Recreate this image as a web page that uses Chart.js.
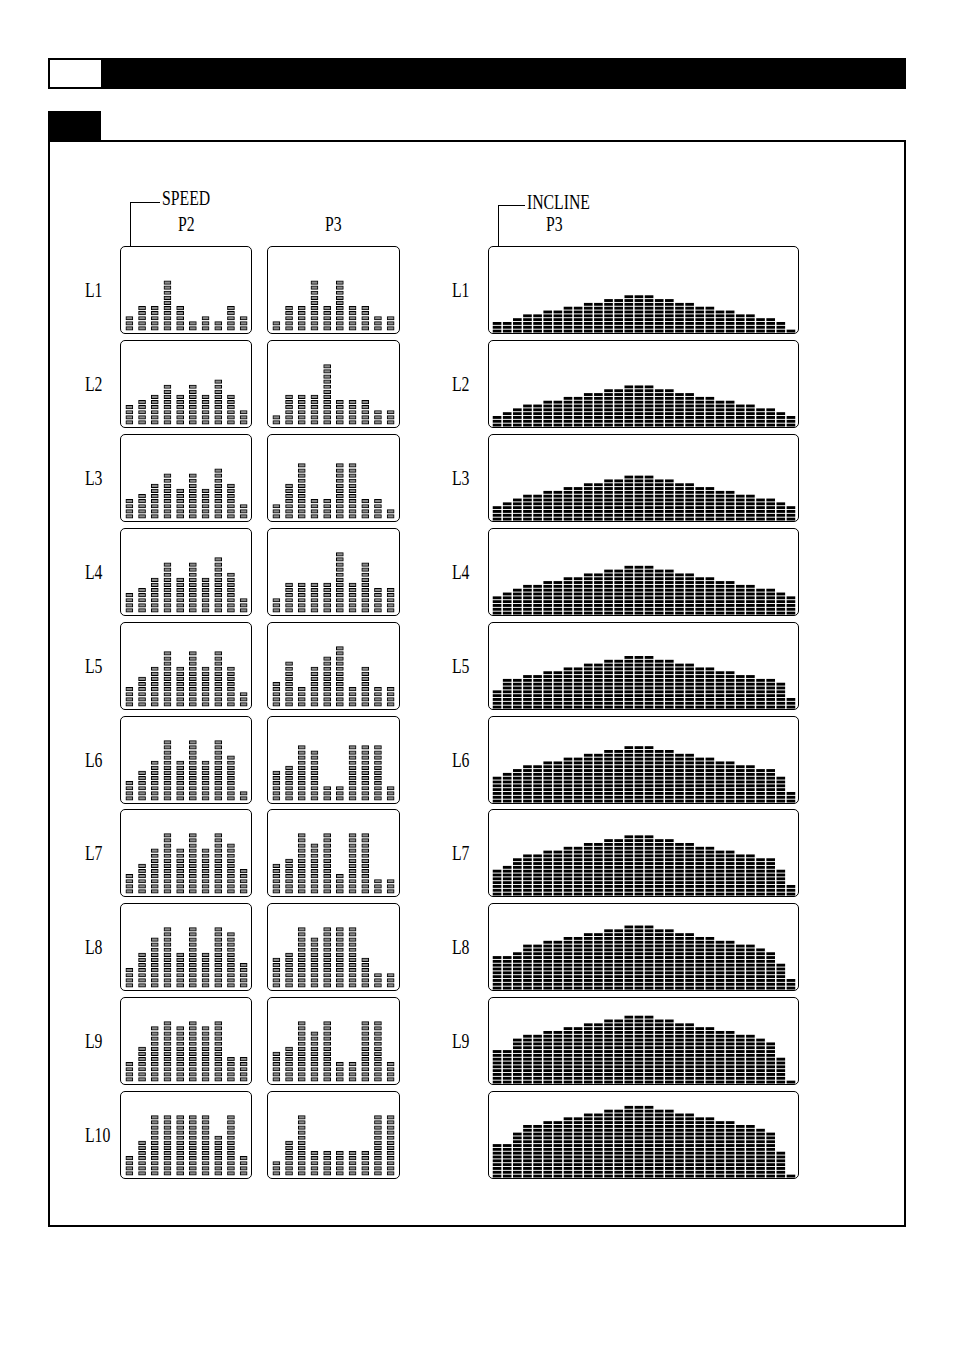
<!DOCTYPE html>
<html>
<head>
<meta charset="utf-8">
<script src="https://cdn.jsdelivr.net/npm/chart.js@4.4.1/dist/chart.umd.min.js"></script>
<style>
  body { margin:0; background:#fff; width:954px; height:1349px; position:relative; font-family:"Liberation Serif", serif; overflow:hidden; }
  .blk { position:absolute; background:#000; }
  .box { position:absolute; border:1px solid #000; border-radius:5px; box-sizing:border-box; background:#fff; }
  .txt { position:absolute; font-size:21px; line-height:21px; transform:scaleX(0.75); transform-origin:left top; white-space:nowrap; color:#000; }
  canvas { position:absolute; }
</style>
</head>
<body>
<div class="blk" style="left:48px;top:58px;width:858px;height:31px"></div>
<div style="position:absolute;left:50px;top:60px;width:51px;height:27px;background:#fff"></div>
<div class="blk" style="left:48px;top:111px;width:53px;height:31px"></div>
<div style="position:absolute;left:48px;top:140px;width:858px;height:1087px;border:2px solid #000;box-sizing:border-box"></div>

<!-- header labels -->
<div class="blk" style="left:130px;top:202px;width:30px;height:1px"></div>
<div class="blk" style="left:130px;top:202px;width:1px;height:58px"></div>
<div class="txt" style="left:162px;top:188px">SPEED</div>
<div class="blk" style="left:498px;top:205px;width:27px;height:1px"></div>
<div class="blk" style="left:498px;top:205px;width:1px;height:55px"></div>
<div class="txt" style="left:527px;top:192px">INCLINE</div>
<div class="txt" style="left:178px;top:214px">P2</div>
<div class="txt" style="left:325px;top:214px">P3</div>
<div class="txt" style="left:546px;top:214px">P3</div>

<script>
// level names
const levels = ["L1", "L2", "L3", "L4", "L5", "L6", "L7", "L8", "L9", "L10"];
// segment columns of each display
const speedCols = [1, 2, 3, 4, 5, 6, 7, 8, 9, 10];
const inclineCols = [1, 2, 3, 4, 5, 6, 7, 8, 9, 10, 11, 12, 13, 14, 15,
                     16, 17, 18, 19, 20, 21, 22, 23, 24, 25, 26, 27, 28, 29, 30];

// lit segments per column, one row per level
const speedP2 = [
  [3, 5, 5, 10, 5, 2, 3, 2, 5, 3],
  [4, 5, 6, 8, 6, 8, 6, 9, 6, 3],
  [4, 5, 7, 9, 6, 9, 6, 10, 7, 3],
  [4, 5, 7, 10, 7, 10, 7, 11, 8, 3],
  [4, 6, 8, 11, 8, 11, 8, 11, 8, 3],
  [4, 6, 8, 12, 8, 12, 8, 12, 9, 2],
  [4, 6, 9, 12, 9, 12, 9, 12, 10, 5],
  [4, 7, 10, 12, 7, 12, 7, 12, 11, 5],
  [4, 7, 11, 12, 11, 12, 11, 12, 5, 5],
  [4, 7, 12, 12, 12, 12, 12, 8, 12, 4]
];
const speedP3 = [
  [2, 5, 5, 10, 5, 10, 5, 5, 3, 3],
  [2, 6, 6, 6, 12, 5, 5, 5, 3, 3],
  [3, 7, 11, 4, 4, 11, 11, 4, 4, 2],
  [3, 6, 6, 6, 6, 12, 6, 10, 5, 5],
  [5, 9, 4, 8, 10, 12, 4, 8, 4, 4],
  [6, 7, 11, 10, 3, 3, 11, 11, 11, 3],
  [6, 7, 12, 10, 12, 4, 12, 12, 3, 3],
  [6, 7, 12, 10, 12, 12, 12, 6, 3, 3],
  [6, 7, 12, 10, 12, 4, 4, 12, 12, 4],
  [3, 7, 12, 5, 5, 5, 5, 5, 12, 12]
];
const inclineP3 = [
  [3,3,4,5,5,6,6,7,7,8,8,9,9,10,10,10,9,9,8,8,7,7,6,6,5,5,4,4,3,1],
  [3,4,5,6,6,7,7,8,8,9,9,10,10,11,11,11,10,10,9,9,8,8,7,7,6,6,5,5,4,3],
  [4,5,6,7,7,8,8,9,9,10,10,11,11,12,12,12,11,11,10,10,9,9,8,8,7,7,6,6,5,4],
  [5,6,7,8,8,9,9,10,10,11,11,12,12,13,13,13,12,12,11,11,10,10,9,9,8,8,7,7,6,5],
  [5,8,8,9,9,10,10,11,11,12,12,13,13,14,14,14,13,13,12,12,11,11,10,10,9,9,8,8,7,3],
  [7,8,9,10,10,11,11,12,12,13,13,14,14,15,15,15,14,14,13,13,12,12,11,11,10,10,9,9,7,3],
  [7,8,10,11,11,12,12,13,13,14,14,15,15,16,16,16,15,15,14,14,13,13,12,12,11,11,10,10,7,3],
  [9,9,10,12,12,13,13,14,14,15,15,16,16,17,17,17,16,16,15,15,14,14,13,13,12,12,11,10,7,3],
  [9,9,12,13,13,14,14,15,15,16,16,17,17,18,18,18,17,17,16,16,15,15,14,14,13,13,12,11,7,1],
  [9,9,12,14,14,15,15,16,16,17,17,18,18,19,19,19,18,18,17,17,16,16,15,15,14,14,13,12,7,1]
];

const rowTop = i => Math.round(246 + i * 93.9);

function add(tag, cls, style, text) {
  const el = document.createElement(tag);
  if (cls) el.className = cls;
  Object.assign(el.style, style);
  if (text) el.textContent = text;
  document.body.appendChild(el);
  return el;
}

// each segment is a floating bar [k-1+gap, k-gap], all segments overlap in one column
function segChart(canvas, labels, values, o) {
  const top = Math.max(...values);
  const datasets = [];
  for (let k = 1; k <= top; k++) {
    datasets.push({
      data: values.map(v => v >= k ? [k - 1 + o.gap, k - o.gap] : null),
      grouped: false,
      barThickness: o.thick,
      backgroundColor: o.fill,
      borderColor: "#000",
      borderWidth: o.border,
      borderSkipped: false
    });
  }
  new Chart(canvas, {
    type: "bar",
    data: { labels: labels, datasets: datasets },
    options: {
      responsive: false,
      animation: false,
      devicePixelRatio: 1,
      layout: { padding: 0 },
      plugins: { legend: { display: false }, tooltip: { enabled: false } },
      scales: {
        x: { display: false },
        y: { display: false, min: 0, max: o.max }
      }
    }
  });
}

const panels = [
  { left: 120, width: 132, data: speedP2, cols: speedCols, speed: true },
  { left: 267, width: 133, data: speedP3, cols: speedCols, speed: true },
  { left: 488, width: 311, data: inclineP3, cols: inclineCols, speed: false }
];

levels.forEach((lv, i) => {
  const t = rowTop(i);
  add("div", "txt", { left: "85px", top: (t + 34) + "px" }, lv);
  if (i < 9) add("div", "txt", { left: "452px", top: (t + 34) + "px" }, lv);

  panels.forEach(p => {
    add("div", "box", { left: p.left + "px", top: t + "px", width: p.width + "px", height: "88px" });
    const c = document.createElement("canvas");
    if (p.speed) {
      c.width = 127; c.height = 82;
      c.style.left = (p.left + 3) + "px";
      c.style.top = (t + 3) + "px";
    } else {
      c.width = 304; c.height = 80;
      c.style.left = (p.left + 4) + "px";
      c.style.top = (t + 7) + "px";
    }
    document.body.appendChild(c);
    if (p.speed) {
      segChart(c, p.cols, p.data[i], { gap: 0.15, thick: 7, fill: "#8a8a8a", border: 1, max: 82 / 5.1 });
    } else {
      segChart(c, p.cols, p.data[i], { gap: 0.21, thick: 8, fill: "#000", border: 0, max: 80 / 3.82 });
    }
  });
});
</script>
</body>
</html>
